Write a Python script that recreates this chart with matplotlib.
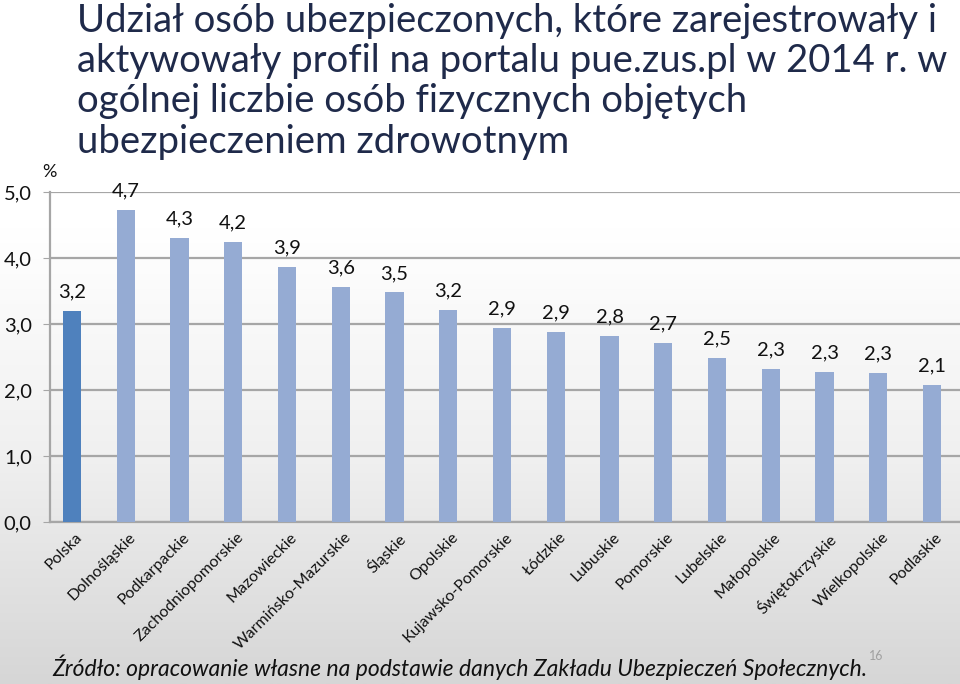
import numpy as np
import matplotlib.pyplot as plt
import matplotlib.transforms as mtransforms
from matplotlib.colors import LinearSegmentedColormap

regions = ['Polska', 'Dolnośląskie', 'Podkarpackie', 'Zachodniopomorskie', 'Mazowieckie',
           'Warmińsko-Mazurskie', 'Śląskie', 'Opolskie', 'Kujawsko-Pomorskie', 'Łódzkie',
           'Lubuskie', 'Pomorskie', 'Lubelskie', 'Małopolskie', 'Świętokrzyskie',
           'Wielkopolskie', 'Podlaskie']
values = [3.20, 4.73, 4.30, 4.24, 3.86, 3.56, 3.48, 3.21, 2.94, 2.88,
          2.82, 2.71, 2.49, 2.32, 2.27, 2.26, 2.08]
yticks = [0, 1, 2, 3, 4, 5]

title = ("Udział osób ubezpieczonych, które zarejestrowały i\n"
         "aktywowały profil na portalu pue.zus.pl w 2014 r. w\n"
         "ogólnej liczbie osób fizycznych objętych\n"
         "ubezpieczeniem zdrowotnym")
source = "Źródło: opracowanie własne na podstawie danych Zakładu Ubezpieczeń Społecznych."

plt.rcParams['font.family'] = ['Lato', 'DejaVu Sans']

fig = plt.figure(figsize=(9.6, 6.84), dpi=100)

# background gradient white -> light gray
bg = fig.add_axes([0, 0, 1, 1], zorder=-10)
grad = np.linspace(0, 1, 256).reshape(-1, 1)
cmap = LinearSegmentedColormap.from_list('g', ['#ffffff', '#ffffff', '#f0f0f0', '#d6d6d6'])
bg.imshow(grad, aspect='auto', cmap=cmap, extent=[0, 1, 0, 1], origin='upper')
bg.axis('off')

ax = fig.add_axes([0.052, 0.237, 0.948, 0.482])
ax.patch.set_alpha(0)
x = np.arange(len(regions))
colors = ['#4f81bd'] + ['#95abd3'] * (len(regions) - 1)
ax.bar(x, values, width=0.34, color=colors, zorder=3)

for xi, v in zip(x, values):
    ax.text(xi, v + 0.16, ('%.1f' % v).replace('.', ','), ha='center', va='bottom',
            fontsize=14.5, color='#111111')

ax.set_xlim(-0.41, 16.52)
ax.set_ylim(0, 5)
ax.set_yticks(yticks)
ax.set_yticklabels([('%.1f' % t).replace('.', ',') for t in yticks], fontsize=14.5)
ax.yaxis.grid(True, color='#a6a6a6', linewidth=1.6, zorder=0)
ax.set_axisbelow(True)
ax.tick_params(axis='y', length=5, color='#a6a6a6', pad=8, labelcolor='#111111')
ax.tick_params(axis='x', length=0, pad=6)
for s in ['top', 'right']:
    ax.spines[s].set_visible(False)
for s in ['left', 'bottom']:
    ax.spines[s].set_color('#a6a6a6')
    ax.spines[s].set_linewidth(1.6)

ax.set_xticks(x)
ax.set_xticklabels(regions, rotation=45, ha='right', rotation_mode='anchor',
                   fontsize=11.5, color='#111111')
off = mtransforms.ScaledTranslation(3 / 100, 0, fig.dpi_scale_trans)
for lbl in ax.get_xticklabels():
    lbl.set_transform(lbl.get_transform() + off)

fig.text(0.044, 0.748, '%', fontsize=13, color='#111111', ha='left', va='center')

fig.text(0.080, 0.996, title, fontsize=27.5, color='#1f2a4a', ha='left', va='top',
         linespacing=1.15)

fig.text(0.054, 0.012, source, fontsize=16.5, style='italic', color='#111111',
         ha='left', va='baseline')
fig.text(0.905, 0.035, '16', fontsize=9, color='#a0a0a0', ha='left', va='baseline')

fig.savefig('out.png', dpi=100)
